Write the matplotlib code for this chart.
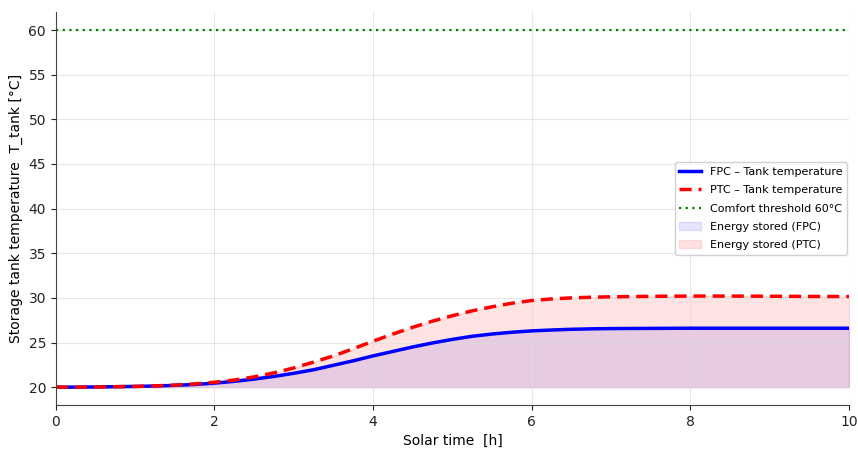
import numpy as np
import matplotlib
matplotlib.use("Agg")
import matplotlib.pyplot as plt

# Solar time [h] and tank temperatures [°C]
time_h = [0, 0.25, 0.5, 0.75, 1.0, 1.25, 1.5, 1.75, 2.0, 2.25, 2.5, 2.75, 3.0,
          3.25, 3.5, 3.75, 4.0, 4.25, 4.5, 4.75, 5.0, 5.25, 5.5, 5.75, 6.0,
          6.25, 6.5, 6.75, 7.0, 7.5, 8.0, 8.5, 9.0, 9.5, 10.0]
t_fpc = [20.0, 20.0, 20.02, 20.05, 20.08, 20.13, 20.2, 20.3, 20.45, 20.65, 20.9,
         21.2, 21.55, 21.95, 22.45, 22.95, 23.5, 24.0, 24.5, 24.95, 25.35, 25.7,
         25.95, 26.15, 26.3, 26.4, 26.48, 26.53, 26.56, 26.58, 26.6, 26.6, 26.6,
         26.6, 26.6]
t_ptc = [20.0, 20.0, 20.02, 20.05, 20.08, 20.14, 20.23, 20.36, 20.55, 20.8, 21.15,
         21.6, 22.15, 22.8, 23.5, 24.3, 25.15, 25.95, 26.7, 27.4, 28.0, 28.55,
         29.0, 29.4, 29.7, 29.88, 30.0, 30.07, 30.12, 30.17, 30.2, 30.2, 30.18,
         30.16, 30.15]
t_initial = 20.0
comfort = 60.0

fig = plt.figure(figsize=(8.58, 4.5), dpi=100)
ax = fig.add_axes([0.065, 0.1, 0.9245, 0.873])

ax.fill_between(time_h, t_initial, t_fpc, color="blue", alpha=0.1,
                label="Energy stored (FPC)")
ax.fill_between(time_h, t_initial, t_ptc, color="red", alpha=0.11,
                label="Energy stored (PTC)")
ax.plot(time_h, t_fpc, color="blue", lw=2.5, label="FPC – Tank temperature")
ax.plot(time_h, t_ptc, color="red", lw=2.5, ls=(0, (3.5, 2)),
        label="PTC – Tank temperature")
ax.axhline(comfort, color="green", lw=1.6, ls=(0, (1, 2)),
           label="Comfort threshold 60°C")

ax.set_xlim(0, 10)
ax.set_ylim(18, 62)
ax.set_yticks(np.arange(20, 61, 5))
ax.set_xticks([0, 2, 4, 6, 8, 10])
ax.grid(True, color="#dddddd", lw=0.8, alpha=0.7)
ax.spines["top"].set_visible(False)
ax.spines["right"].set_visible(False)
ax.spines["left"].set_color("#444444")
ax.spines["bottom"].set_color("#444444")
ax.tick_params(labelsize=10, colors="#222222")
ax.set_xlabel("Solar time  [h]", fontsize=10)
ax.set_ylabel("Storage tank temperature  T_tank [°C]", fontsize=10)

handles, labels = ax.get_legend_handles_labels()
order = [2, 3, 4, 0, 1]
ax.legend([handles[i] for i in order], [labels[i] for i in order],
          loc="center right", fontsize=8, framealpha=0.9,
          labelspacing=0.75, borderaxespad=0.15)

fig.savefig("out.png", dpi=100)
